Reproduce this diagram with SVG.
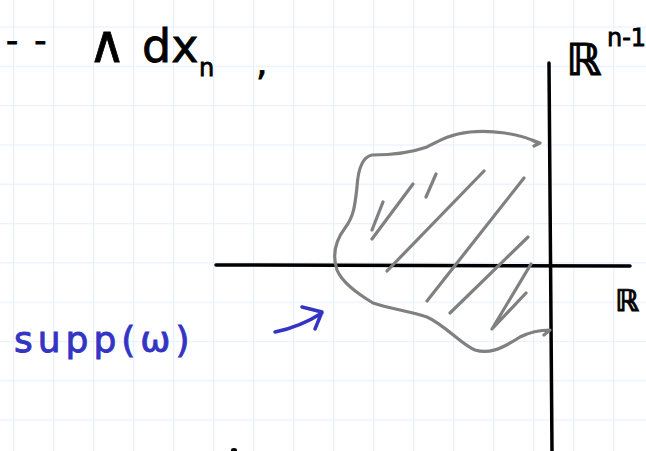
<svg xmlns="http://www.w3.org/2000/svg" width="646" height="451" viewBox="0 0 646 451">
<defs>
<pattern id="grid" x="13" y="26.5" width="40" height="39.3" patternUnits="userSpaceOnUse">
<path d="M0 0V39.3M0 0H40" fill="none" stroke="#e8f1fc" stroke-width="2.5"/>
</pattern>
</defs>
<style>
.ink{fill:#000;stroke:#000;stroke-width:0.8;font-family:"DejaVu Sans","Liberation Sans",sans-serif}
.blue{fill:#3434c4;stroke:#3434c4;stroke-width:0.9;font-family:"DejaVu Sans","Liberation Sans",sans-serif}
.axis{stroke:#000;stroke-width:3.5;fill:none;stroke-linecap:round}
.gray{stroke:#808080;stroke-width:3.2;fill:none;stroke-linecap:round;stroke-linejoin:round}
.barrow{stroke:#3434c4;stroke-width:3.5;fill:none;stroke-linecap:round;stroke-linejoin:round}
</style>
<rect width="646" height="451" fill="#fff"/>
<rect width="646" height="451" fill="url(#grid)"/>
<g id="formula">
<text class="ink" x="6" y="52" font-size="34" letter-spacing="16">--</text>
<text class="ink" x="88" y="62" font-size="52">∧</text>
<text class="ink" x="142" y="62" font-size="46">dx</text>
<text class="ink" x="199" y="76" font-size="24">n</text>
<text class="ink" x="256" y="75" font-size="36">,</text>
</g>
<g id="connectors">
<line id="axis-h" class="axis" x1="216" y1="265" x2="630" y2="266"/>
<line id="axis-v" class="axis" x1="549" y1="63" x2="552" y2="451"/>
<path id="support-arrow" class="barrow" d="M275 332 Q300 327 322 313 M302 307 L322 312 L315 329"/>
</g>
<g id="support-region">
<path class="gray" d="M532 140 L540 143 L534 146 M538 143 C520 133 490 130 470 132 C450 134 440 140 427 147 C410 153 390 155 372 155 C362 157 358 170 357 187 C355 205 354 216 345 228 C336 240 332 255 337 270 C342 282 355 292 373 303 C390 309 410 311 427 317 C445 325 462 345 475 350 C488 354 500 350 520 337 C532 331 542 330 550 330 L544 335"/>
<path class="gray" d="M383 202 L372 230 M413 184 L372 239 M436 174 L426 197 M484 171 L387 271 M524 178 L427 301 M528 237 L450 313 M531 264 L492 329 L526 293"/>
</g>
<g id="R-vertical">
<text class="ink" x="566" y="75" font-size="44" font-weight="bold">ℝ</text>
<text class="ink" x="607" y="46" font-size="24">n-1</text>
</g>
<g id="R-horizontal">
<text class="ink" x="615" y="311" font-size="30" font-weight="bold">ℝ</text>
</g>
<g id="supp-label">
<text class="blue" x="14" y="352" font-size="36" letter-spacing="5">supp(ω)</text>
</g>
<ellipse cx="234" cy="450" rx="3" ry="2" fill="#000"/>
</svg>
